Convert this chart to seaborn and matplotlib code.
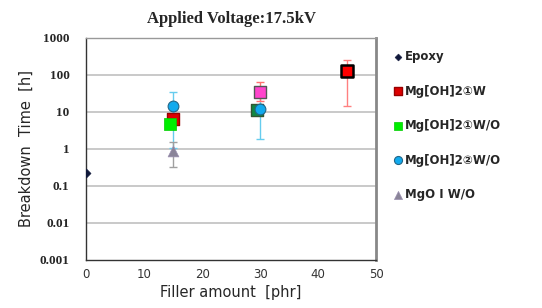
import numpy as np
import pandas as pd
import matplotlib
matplotlib.use("Agg")
import matplotlib.pyplot as plt
import seaborn as sns

# data (breakdown time in hours)
epoxy_x = [0]
epoxy_y = [0.22]

w1_x = [15, 45]
w1_y = [6.5, 130]
w1_lo = [6.5, 14]
w1_hi = [6.5, 250]

wo1_x = [14.5]
wo1_y = [4.8]

wo2_x = [15, 30]
wo2_y = [14.5, 12]
wo2_lo = [1.05, 1.9]
wo2_hi = [34, 30]

mgo_x = [15]
mgo_y = [0.9]
mgo_lo = [0.33]
mgo_hi = [1.55]

# extra points at 30 phr not listed in the legend
pink_x = [30]
pink_y = [35]
pink_lo = [20]
pink_hi = [65]
dkgreen_x = [29.5]
dkgreen_y = [11]

x_ticks = [0, 10, 20, 30, 40, 50]
y_ticks = [0.001, 0.01, 0.1, 1, 10, 100, 1000]
y_tick_labels = ["0.001", "0.01", "0.1", "1", "10", "100", "1000"]

sns.set_style("white")
plt.rcParams['font.family'] = ['DejaVu Sans']

fig = plt.figure(figsize=(5.42, 3.08), dpi=100)
ax = fig.add_axes([0.159, 0.156, 0.535, 0.721])

ax.set_yscale("log")
for yv in y_ticks[1:-1]:
    ax.axhline(yv, color="#c0c0c0", lw=1.2, zorder=0)


def errs(y, lo, hi):
    y = np.array(y)
    return [y - np.array(lo), np.array(hi) - y]


ax.errorbar(w1_x, w1_y, yerr=errs(w1_y, w1_lo, w1_hi), fmt="none",
            ecolor="#ff8080", elinewidth=1, capsize=3, zorder=2)
ax.errorbar(wo2_x, wo2_y, yerr=errs(wo2_y, wo2_lo, wo2_hi), fmt="none",
            ecolor="#66ccee", elinewidth=1, capsize=3, zorder=2)
ax.errorbar(mgo_x, mgo_y, yerr=errs(mgo_y, mgo_lo, mgo_hi), fmt="none",
            ecolor="#a0a0a0", elinewidth=1, capsize=3, zorder=2)
ax.errorbar(pink_x, pink_y, yerr=errs(pink_y, pink_lo, pink_hi), fmt="none",
            ecolor="#ff7070", elinewidth=1, capsize=3, zorder=2)

sns.scatterplot(x=epoxy_x, y=epoxy_y, marker="D", s=22, color="#10183a",
                edgecolor="#10183a", ax=ax, label="Epoxy", zorder=3)
sns.scatterplot(x=w1_x[:1], y=w1_y[:1], marker="s", s=70, color="#dd0000",
                edgecolor="#990000", linewidth=1, ax=ax, label="Mg[OH]2①W", zorder=3)
sns.scatterplot(x=w1_x[1:], y=w1_y[1:], marker="s", s=70, color="#ff0000",
                edgecolor="black", linewidth=1.8, ax=ax, label="_w1_45", zorder=4)
sns.scatterplot(x=dkgreen_x, y=dkgreen_y, marker="s", s=70, color="#118844",
                edgecolor="#335533", linewidth=1, ax=ax, label="_dkgreen", zorder=3)
sns.scatterplot(x=wo1_x, y=wo1_y, marker="s", s=70, color="#00ee00",
                edgecolor="#00cc00", linewidth=0.5, ax=ax, label="Mg[OH]2①W/O", zorder=4)
sns.scatterplot(x=pink_x, y=pink_y, marker="s", s=70, color="#ff44cc",
                edgecolor="#555555", linewidth=1, ax=ax, label="_pink", zorder=3)
sns.scatterplot(x=wo2_x, y=wo2_y, marker="o", s=60, color="#11aaee",
                edgecolor="#226688", linewidth=0.8, ax=ax, label="Mg[OH]2②W/O", zorder=5)
sns.scatterplot(x=mgo_x, y=mgo_y, marker="^", s=60, color="#8a8498",
                edgecolor="#9a8fb0", linewidth=0.5, ax=ax, label="MgO Ⅰ W/O", zorder=3)

ax.set_xlim(0, 50)
ax.set_ylim(0.001, 1000)
ax.set_xticks(x_ticks)
ax.set_xticklabels([str(v) for v in x_ticks], fontsize=8.5, color="#333333")
ax.set_yticks(y_ticks)
ax.set_yticklabels(y_tick_labels, fontsize=9.5, fontweight="bold",
                   family="Liberation Serif")
ax.yaxis.set_minor_locator(matplotlib.ticker.NullLocator())
ax.tick_params(axis="x", direction="in", length=3, color="#666666", pad=6)
ax.tick_params(axis="y", direction="out", length=0, pad=12)

for side in ["left", "bottom"]:
    ax.spines[side].set_color("#333333")
    ax.spines[side].set_linewidth(1)
ax.spines["top"].set_color("#999999")
ax.spines["top"].set_linewidth(1)
ax.spines["right"].set_color("#888888")
ax.spines["right"].set_linewidth(2)

ax.set_xlabel("Filler amount  [phr]", fontsize=10.5, labelpad=3)
ax.set_ylabel("Breakdown  Time  [h]", fontsize=10.5, labelpad=4)
ax.set_title("Applied Voltage:17.5kV", fontsize=12, fontweight="bold",
             family="Liberation Serif", pad=11)

handles, labels = ax.get_legend_handles_labels()
ax.legend_.remove()
fig.legend(handles, labels, loc="upper left", bbox_to_anchor=(0.703, 0.872),
           frameon=False, labelspacing=1.82, handletextpad=0.15,
           handlelength=1.0, markerscale=0.75,
           prop={"size": 8.5, "weight": "bold"})

fig.savefig("out.png", dpi=100)
